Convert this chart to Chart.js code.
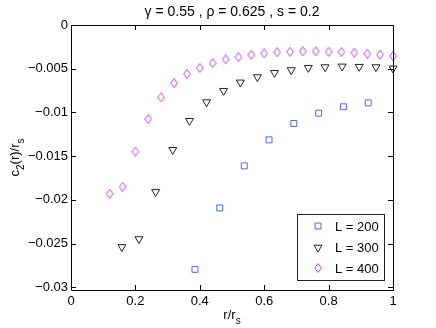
<!DOCTYPE html>
<html>
<head>
<meta charset="utf-8">
<script src="https://cdn.jsdelivr.net/npm/chart.js@4.4.1/dist/chart.umd.min.js"></script>
<style>
  html, body { margin: 0; padding: 0; background: #fff; }
</style>
</head>
<body>
<canvas id="chart" width="436" height="328"></canvas>
<script>
// --- data ---
const xL200 = [0.385, 0.462, 0.538, 0.615, 0.692, 0.769, 0.846, 0.923];
const yL200 = [-0.02794, -0.02092, -0.01611, -0.01313, -0.01126, -0.01008, -0.00935, -0.0089];

const xL300 = [0.158, 0.211, 0.263, 0.316, 0.368, 0.421, 0.474, 0.526, 0.579,
               0.632, 0.684, 0.737, 0.789, 0.842, 0.895, 0.947, 1.0];
const yL300 = [-0.02538, -0.02447, -0.01908, -0.01427, -0.01095, -0.00882, -0.00752, -0.00656, -0.00595,
               -0.00546, -0.00515, -0.00489, -0.00481, -0.00473, -0.00477, -0.00481, -0.00496];

const xL400 = [0.12, 0.16, 0.20, 0.24, 0.28, 0.32, 0.36, 0.40, 0.44, 0.48, 0.52, 0.56,
               0.60, 0.64, 0.68, 0.72, 0.76, 0.80, 0.84, 0.88, 0.92, 0.96, 1.00];
const yL400 = [-0.0193, -0.0185, -0.01447, -0.01076, -0.00828, -0.00664, -0.00561, -0.00489, -0.00435,
               -0.00393, -0.00366, -0.0034, -0.00324, -0.00313, -0.00305, -0.00301, -0.00301,
               -0.00305, -0.00309, -0.00317, -0.00329, -0.0034, -0.00355];

const seriesLabels = ['L = 200', 'L = 300', 'L = 400'];
const xTicks = [0, 0.2, 0.4, 0.6, 0.8, 1];
const yTicks = [-0.03, -0.025, -0.02, -0.015, -0.01, -0.005, 0];

const FONT = '"Liberation Sans", Arial, sans-serif';
const MAGENTA = '#c040ff';

const toPoints = (xs, ys) => xs.map((x, i) => ({ x: x, y: ys[i] }));

// tall Matlab-style diamond marker
function makeDiamond(color) {
    const c = document.createElement('canvas');
    c.width = 8; c.height = 10;
    const g = c.getContext('2d');
    g.strokeStyle = color;
    g.lineWidth = 1;
    g.beginPath();
    g.moveTo(4, 0.5); g.lineTo(7.3, 5); g.lineTo(4, 9.5); g.lineTo(0.7, 5); g.closePath();
    g.stroke();
    return c;
}
const diamond = makeDiamond(MAGENTA);

// draws a string made of normal/subscript parts, centred on x
function drawParts(ctx, parts, x, y, size) {
    const subSize = Math.round(size * 0.75);
    let w = 0;
    parts.forEach(p => {
        ctx.font = (p.sub ? subSize : size) + 'px ' + FONT;
        p.w = ctx.measureText(p.t).width;
        w += p.w;
    });
    let cx = x - w / 2;
    ctx.textAlign = 'left';
    ctx.textBaseline = 'alphabetic';
    parts.forEach(p => {
        ctx.font = (p.sub ? subSize : size) + 'px ' + FONT;
        ctx.fillText(p.t, cx, p.sub ? y + size * 0.35 : y);
        cx += p.w;
    });
}

// --- frame, inward ticks, titles and legend (Matlab look) ---
const matlabFrame = {
    id: 'matlabFrame',
    afterDatasetsDraw(chart) {
        const ctx = chart.ctx;
        const a = chart.chartArea;
        const xs = chart.scales.x, ys = chart.scales.y;
        const T = 5;
        ctx.save();
        ctx.strokeStyle = '#000';
        ctx.lineWidth = 1;
        ctx.beginPath();
        ctx.rect(Math.round(a.left) + 0.5, Math.round(a.top) + 0.5,
                 Math.round(a.right - a.left), Math.round(a.bottom - a.top));
        xTicks.forEach(v => {
            const px = Math.round(xs.getPixelForValue(v)) + 0.5;
            ctx.moveTo(px, a.bottom); ctx.lineTo(px, a.bottom - T);
            ctx.moveTo(px, a.top); ctx.lineTo(px, a.top + T);
        });
        yTicks.forEach(v => {
            const py = Math.round(ys.getPixelForValue(v)) + 0.5;
            ctx.moveTo(a.left, py); ctx.lineTo(a.left + T, py);
            ctx.moveTo(a.right, py); ctx.lineTo(a.right - T, py);
        });
        ctx.stroke();

        // titles
        ctx.fillStyle = '#000';
        ctx.font = '14px ' + FONT;
        ctx.textAlign = 'center';
        ctx.textBaseline = 'alphabetic';
        const cxMid = (a.left + a.right) / 2;
        ctx.fillText('\u03b3 = 0.55 , \u03c1 = 0.625 , s = 0.2', cxMid, 16);
        drawParts(ctx, [{ t: 'r/r' }, { t: 's', sub: true }], cxMid, 319, 13);
        ctx.save();
        ctx.translate(19, (a.top + a.bottom) / 2);
        ctx.rotate(-Math.PI / 2);
        drawParts(ctx, [{ t: 'c' }, { t: '2', sub: true }, { t: '(r)/r' }, { t: 's', sub: true }], 0, 0, 13);
        ctx.restore();

        // legend box
        const lx = 297.5, ly = 214.5, lw = 87, lh = 66;
        ctx.fillStyle = '#fff';
        ctx.fillRect(lx, ly, lw, lh);
        ctx.strokeStyle = '#222';
        ctx.strokeRect(lx, ly, lw, lh);
        const rows = [226, 247.5, 268];
        chart.data.datasets.forEach((ds, i) => {
            ctx.strokeStyle = ds.borderColor;
            ctx.fillStyle = 'rgba(0,0,0,0)';
            ctx.lineWidth = 1;
            Chart.helpers.drawPoint(ctx, {
                pointStyle: ds.pointStyle, rotation: ds.rotation || 0,
                radius: ds.pointRadius, borderWidth: 1
            }, 318, rows[i]);
            ctx.fillStyle = '#000';
            ctx.font = '13px ' + FONT;
            ctx.textAlign = 'left';
            ctx.textBaseline = 'middle';
            ctx.fillText(seriesLabels[i], 335, rows[i] + 1);
        });
        ctx.restore();
    }
};

const fmtY = v => {
    const r = Math.round(v * 1000) / 1000;
    return r === 0 ? '0' : '\u2212' + String(Math.abs(r));
};

new Chart(document.getElementById('chart'), {
    type: 'scatter',
    data: {
        datasets: [
            {
                label: seriesLabels[0], data: toPoints(xL200, yL200),
                pointStyle: 'rect', pointRadius: 4.2, borderColor: '#4a66ff',
                backgroundColor: 'rgba(0,0,0,0)', borderWidth: 1, clip: false
            },
            {
                label: seriesLabels[1], data: toPoints(xL300, yL300),
                pointStyle: 'triangle', rotation: 180, pointRadius: 4.6, borderColor: '#222',
                backgroundColor: 'rgba(0,0,0,0)', borderWidth: 1, clip: false
            },
            {
                label: seriesLabels[2], data: toPoints(xL400, yL400),
                pointStyle: diamond, pointRadius: 4.6, borderColor: MAGENTA,
                backgroundColor: 'rgba(0,0,0,0)', borderWidth: 1, clip: false
            }
        ]
    },
    options: {
        responsive: false,
        animation: false,
        devicePixelRatio: 1,
        layout: { padding: { left: 0, top: 25, right: 43, bottom: 0 } },
        plugins: {
            legend: { display: false },
            tooltip: { enabled: false },
            title: { display: false }
        },
        scales: {
            x: {
                type: 'linear', min: 0, max: 1,
                afterFit: s => { s.height = 38; },
                afterBuildTicks: s => { s.ticks = xTicks.map(v => ({ value: v })); },
                grid: { display: false, drawTicks: false },
                border: { display: false },
                ticks: {
                    color: '#000', padding: 4, maxRotation: 0,
                    font: { family: FONT, size: 13 },
                    callback: v => String(Math.round(v * 10) / 10)
                }
            },
            y: {
                type: 'linear', min: -0.0303, max: 0,
                afterFit: s => { s.width = 71; },
                afterBuildTicks: s => { s.ticks = yTicks.map(v => ({ value: v })); },
                grid: { display: false, drawTicks: false },
                border: { display: false },
                ticks: {
                    color: '#000', padding: 3,
                    font: { family: FONT, size: 13 },
                    callback: fmtY
                }
            }
        }
    },
    plugins: [matlabFrame]
});
</script>
</body>
</html>
